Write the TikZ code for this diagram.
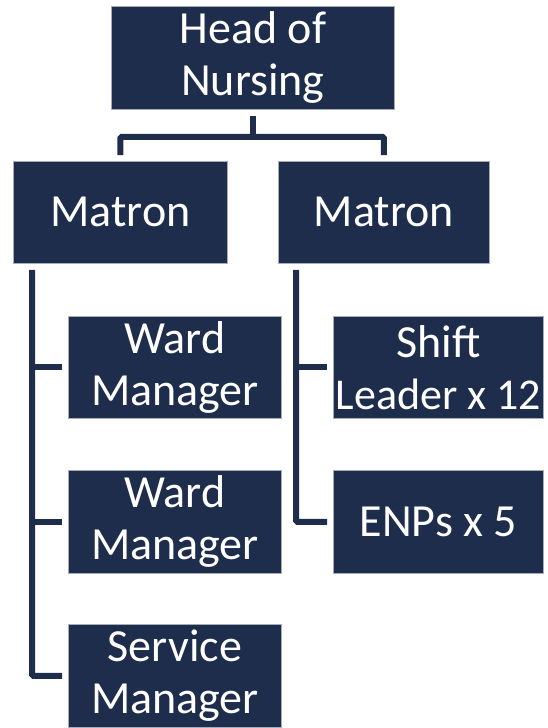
\documentclass[tikz,border=0pt]{standalone}
\usepackage{fontspec}
\setmainfont{Carlito}
\usepackage{tikz}
\usetikzlibrary{positioning,calc}
\definecolor{navy}{RGB}{31,45,77}
\tikzstyle{rolebox}=[rectangle,draw=navy!40!white,line width=0.8pt,fill=navy,text=white,anchor=north west,inner sep=0pt,align=flush center,minimum height=102pt,font=\fontsize{46}{52}\selectfont]
\tikzstyle{link}=[draw=navy,line width=6pt,rounded corners=1.5pt]

\begin{document}
\begin{tikzpicture}[x=1pt,y=-1pt]
    \useasboundingbox (0,0) rectangle (547,728);
    \node [rolebox,text width=283pt,minimum height=103pt] (head) at (111,6) {Head of\\Nursing};
    \node [rolebox,text width=214pt] (matronL) at (13,161) {Matron};
    \node [rolebox,text width=211pt] (matronR) at (278,161) {Matron};
    \node [rolebox,text width=213pt] (wardA) at (68,316) {Ward\\Manager};
    \node [rolebox,text width=213pt,minimum height=103pt] (wardB) at (68,470) {Ward\\Manager};
    \node [rolebox,text width=213pt,minimum height=103pt] (service) at (68,624) {Service\\Manager};
    \node [rolebox,text width=210pt] (shift) at (333,316) {Shift\\\mbox{\fontsize{44}{52}\selectfont Leader x 12}};
    \node [rolebox,text width=210pt,minimum height=103pt] (enps) at (333,470) {ENPs x 5};

    \path (head.south) ++(0,27) coordinate (hub);
    \draw [link,shorten <=6pt] (head.south) -- (hub);
    \draw [link,shorten >=6pt] (hub) -| (matronL.north);
    \draw [link,shorten >=6pt] (hub) -| (matronR.north);

    \path (matronL.south west) ++(19,6) coordinate (trunkL);
    \draw [link,shorten >=6pt] (trunkL) |- (service.west);
    \draw [link,shorten >=6pt] (trunkL |- wardA.west) -- (wardA.west);
    \draw [link,shorten >=6pt] (trunkL |- wardB.west) -- (wardB.west);

    \path (matronR.south west) ++(18,6) coordinate (trunkR);
    \draw [link,shorten >=6pt] (trunkR) |- (enps.west);
    \draw [link,shorten >=6pt] (trunkR |- shift.west) -- (shift.west);
\end{tikzpicture}
\end{document}
